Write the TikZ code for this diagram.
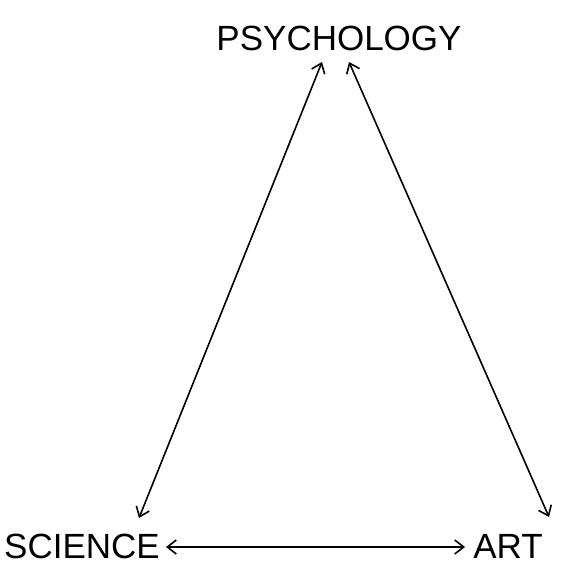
\documentclass[tikz,border=0pt]{standalone}
\usepackage{fontspec}
\setmainfont{Liberation Sans}
\usetikzlibrary{arrows.meta}
\begin{document}
\begin{tikzpicture}[x=1pt,y=1pt,
  lbl/.style={inner sep=0pt,font=\fontsize{35}{40}\selectfont},
  link/.style={line width=1.6pt,{Straight Barb[length=9pt,width=14pt,line width=1.6pt]}-{Straight Barb[length=9pt,width=14pt,line width=1.6pt]}}]
\useasboundingbox (0,0) rectangle (567,565);
\node[lbl] (psy) at (339,527) {PSYCHOLOGY};
\node[lbl] (sci) at (82,19) {SCIENCE};
\node[lbl] (art) at (508,19) {ART};
\coordinate (pl) at (322,503);
\coordinate (pr) at (349,503);
\coordinate (sl) at (139,47);
\coordinate (ar) at (549,48);
\coordinate (sh) at (166,18);
\coordinate (ah) at (465,18);
\draw[link] (sl) -- (pl);
\draw[link] (pr) -- (ar);
\draw[link] (sh) -- (ah);
\end{tikzpicture}
\end{document}
